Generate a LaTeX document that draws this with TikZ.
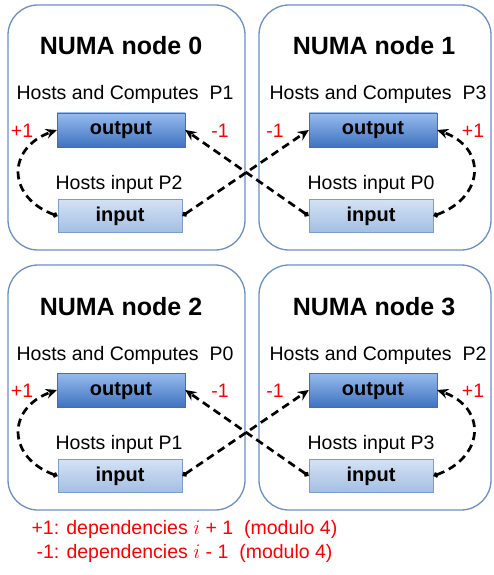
\documentclass[tikz,border=0pt]{standalone}
\usepackage{fontspec}
\setmainfont{Liberation Sans}
\usepackage{tikz}
\usetikzlibrary{arrows.meta}
\definecolor{numaline}{HTML}{6A8FC4}
\definecolor{outtop}{HTML}{97BCEE}
\definecolor{outbot}{HTML}{3F72C0}
\definecolor{outline}{HTML}{3E6FB5}
\definecolor{intop}{HTML}{D4E2F4}
\definecolor{inbot}{HTML}{A3BEE3}
\definecolor{inline}{HTML}{7B9DCC}

\begin{document}
\begin{tikzpicture}[x=1pt,y=1pt,
  numa/.style={draw=numaline,line width=1.3pt,rounded corners=30pt},
  title/.style={anchor=base,font=\fontsize{25}{30}\selectfont\bfseries},
  host/.style={anchor=base,font=\fontsize{19.5}{23}\selectfont},
  dep/.style={anchor=base,red,font=\fontsize{19.5}{23}\selectfont},
  outbox/.style={draw=outline,top color=outtop,bottom color=outbot,minimum width=128pt,minimum height=34pt,inner sep=0pt,text height=14pt,text depth=4pt,font=\fontsize{20}{24}\selectfont\bfseries},
  inbox/.style={draw=inline,top color=intop,bottom color=inbot,minimum width=124pt,minimum height=33pt,inner sep=0pt,text height=14pt,text depth=4pt,font=\fontsize{20}{24}\selectfont\bfseries},
  link/.style={{Diamond[length=6pt,width=6pt]}-{Stealth[length=11pt,width=10pt]},line width=2.7pt,dash pattern=on 8pt off 5pt}]
\useasboundingbox (0,0) rectangle (493,-575);

% NUMA node 0
\draw [numa] (8,-5) rectangle (245,-250);
\node [title] (t0) at(121,-55) {NUMA node 0};
\node [host] (hc0) at(125,-100) {Hosts and Computes\ \ P1};
\node [outbox] (out0) at(121,-130) {output};
\node [host] (hi0) at(119,-189) {Hosts input P2};
\node [inbox] (in0) at(120,-216) {input};
\node [dep] (p0) at(22,-137) {+1};
\node [dep] (m0) at(220,-137) {-1};

% NUMA node 1
\draw [numa] (259,-5) rectangle (491,-250);
\node [title] (t1) at(374,-55) {NUMA node 1};
\node [host] (hc1) at(378,-100) {Hosts and Computes\ \ P3};
\node [outbox] (out1) at(373,-130) {output};
\node [host] (hi1) at(371,-189) {Hosts input P0};
\node [inbox] (in1) at(371,-216) {input};
\node [dep] (m1) at(275,-137) {-1};
\node [dep] (p1) at(473,-137) {+1};

% NUMA node 2
\draw [numa] (8,-265) rectangle (245,-510);
\node [title] (t2) at(121,-315) {NUMA node 2};
\node [host] (hc2) at(125,-360) {Hosts and Computes\ \ P0};
\node [outbox] (out2) at(121,-390) {output};
\node [host] (hi2) at(119,-449) {Hosts input P1};
\node [inbox] (in2) at(120,-476) {input};
\node [dep] (p2) at(22,-397) {+1};
\node [dep] (m2) at(220,-397) {-1};

% NUMA node 3
\draw [numa] (259,-265) rectangle (491,-510);
\node [title] (t3) at(374,-315) {NUMA node 3};
\node [host] (hc3) at(378,-360) {Hosts and Computes\ \ P2};
\node [outbox] (out3) at(373,-390) {output};
\node [host] (hi3) at(371,-449) {Hosts input P3};
\node [inbox] (in3) at(371,-476) {input};
\node [dep] (m3) at(275,-397) {-1};
\node [dep] (p3) at(473,-397) {+1};

% dependencies
\draw [link] (in0.west) to[out=160,in=200,looseness=1.6] (out0.west);
\draw [link] (in1.east) to[out=20,in=-20,looseness=1.6] (out1.east);
\draw [link] (in0.east) -- (out1.west);
\draw [link] (in1.west) -- (out0.east);
\draw [link] (in2.west) to[out=160,in=200,looseness=1.6] (out2.west);
\draw [link] (in3.east) to[out=20,in=-20,looseness=1.6] (out3.east);
\draw [link] (in2.east) -- (out3.west);
\draw [link] (in3.west) -- (out2.east);

\node [dep,anchor=base west] (l1) at(28,-534) {+1: dependencies $i$ + 1\ \ (modulo 4)};
\node [dep,anchor=base west] (l2) at(33,-558) {-1: dependencies $i$ - 1\ \ (modulo 4)};
\end{tikzpicture}
\end{document}
